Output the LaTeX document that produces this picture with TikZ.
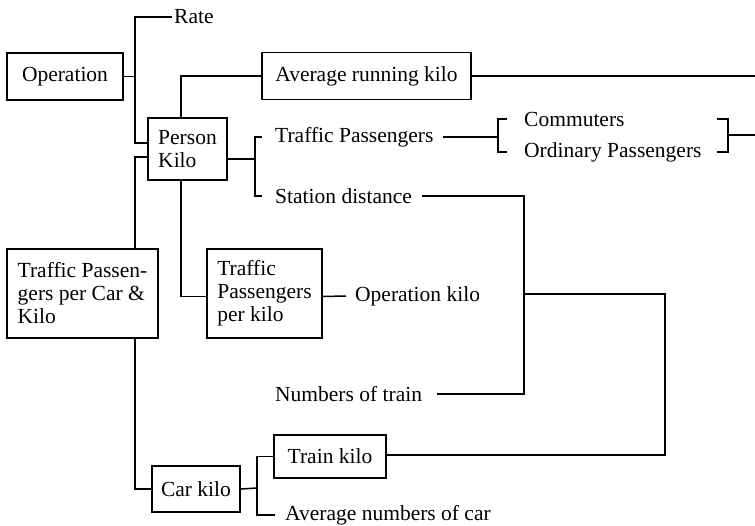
\documentclass[tikz,border=0pt]{standalone}
\usepackage{fontspec}
\setmainfont{Liberation Serif}
\usetikzlibrary{calc}
\begin{document}
\begin{tikzpicture}[x=1pt,y=-1pt,
  every node/.style={font=\fontsize{21.5}{23}\selectfont},
  box/.style={draw,line width=1.5pt,rectangle,inner sep=0pt,align=left},
  txt/.style={inner sep=0pt,anchor=west},
  ln/.style={line width=1.5pt}]
\useasboundingbox (0,0) rectangle (755,526);
% boxes
\node[box,minimum width=116pt,minimum height=47pt] (op) at (65,76.5) {Operation};
\node[box,minimum width=79pt,minimum height=62pt] (pk) at (187.5,149) {Person\\Kilo};
\node[box,minimum width=209pt,minimum height=47pt] (avg) at (366.5,76) {Average running kilo};
\node[box,minimum width=151pt,minimum height=89pt] (tpck) at (82.5,293.5) {Traffic Passen-\\gers per Car \&\\Kilo};
\node[box,minimum width=115pt,minimum height=89pt] (tpk) at (264.5,293.5) {Traffic\\Passengers\\per kilo};
\node[box,minimum width=88pt,minimum height=46pt] (ck) at (196,489) {Car kilo};
\node[box,minimum width=112pt,minimum height=43pt] (tk) at (330,456.5) {Train kilo};
% text labels
\node[txt] (rate) at (174,17) {Rate};
\node[txt] (tp) at (275,137) {Traffic Passengers};
\node[txt] (sd) at (275,196) {Station distance};
\node[txt] (com) at (524,119) {Commuters};
\node[txt] (ord) at (524,152) {Ordinary Passengers};
\node[txt] (ok) at (355,296) {Operation kilo};
\node[txt] (nt) at (275,394) {Numbers of train};
\node[txt] (anc) at (285,515) {Average numbers of car};
% junctions and free ends
\coordinate (j1) at (135,76.5);
\coordinate (j2) at (255,159);
\coordinate (j3) at (524,294);
\coordinate (j4) at (257,488);
\coordinate (lb) at (498,137);
\coordinate (rb) at (728,135);
\coordinate (e1) at (755,76);
\coordinate (e2) at (755,135);
% connectors
\draw[ln] (op.east) -- (j1);
\draw[ln] ($(rate.west)+(-2,0)$) -| (j1) |- ($(pk.west)+(0,-6)$);
\draw[ln] ($(tpck.north)+(52.5,0)$) |- ($(pk.west)+(0,8)$);
\draw[ln] ($(tpck.south)+(52.5,0)$) |- (ck.west);
\draw[ln] ($(pk.north)+(-6.5,0)$) |- (avg.west);
\draw[ln] (avg.east) -- (e1);
\draw[ln] ($(pk.east)+(0,10)$) -- (j2);
\draw[ln] ($(tp.west)+(-13,0)$) -| (j2) |- ($(sd.west)+(-13,0)$);
\draw[ln] ($(tp.east)+(9,0)$) -- (lb);
\draw[ln] ($(com.west)+(-17,0)$) -| (lb) |- ($(ord.west)+(-17,0)$);
\draw[ln] ($(ord.east |- com.west)+(15,0)$) -| (rb) |- ($(ord.east)+(15,0)$);
\draw[ln] (rb) -- (e2);
\draw[ln] ($(pk.south)+(-6.5,0)$) |- ($(tpk.west)+(0,3)$);
\draw[ln] ($(tpk.east)+(0,3)$) -- ($(ok.west)+(-9,0)$);
\draw[ln] ($(sd.east)+(10,0)$) -| (j3);
\draw[ln] ($(nt.east)+(15,0)$) -| (j3);
\draw[ln] (j3) -- (665,294) |- ($(tk.east)+(0,-1.5)$);
\draw[ln] (ck.east) -- (j4);
\draw[ln] (tk.west) -| (j4) |- ($(anc.west)+(-10,0)$);
\end{tikzpicture}
\end{document}
